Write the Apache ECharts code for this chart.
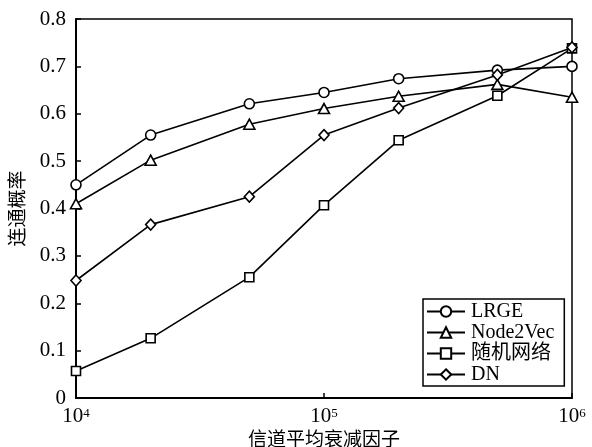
<!DOCTYPE html>
<html><head><meta charset="utf-8">
<script src="https://cdn.jsdelivr.net/npm/echarts@6/dist/echarts.min.js"></script>
<style>html,body{margin:0;padding:0;background:#fff}#c{width:592px;height:447px}</style>
</head><body><div id="c"></div>
<script>
const xValues = [10000, 20000, 50000, 100000, 200000, 500000, 1000000];
const lrge = [0.450, 0.555, 0.621, 0.645, 0.674, 0.692, 0.700];
const node2vec = [0.410, 0.502, 0.578, 0.611, 0.637, 0.662, 0.635];
const randomNet = [0.057, 0.126, 0.255, 0.407, 0.544, 0.638, 0.738];
const dn = [0.248, 0.366, 0.425, 0.555, 0.612, 0.682, 0.740];
const seriesNames = ['LRGE', 'Node2Vec', '随机网络', 'DN'];
const xTitle = '信道平均衰减因子';
const yTitle = '连通概率';

const FONT = '"Liberation Serif", "Noto Sans CJK SC", serif';
const chart = echarts.init(document.getElementById('c'), null, {renderer: 'canvas'});
function pairs(arr) { return xValues.map((x, i) => [x, arr[i]]); }
function mk(name, data, symbol, size) {
  return {
    name, type: 'line', data: pairs(data), symbol, symbolSize: size,
    showAllSymbol: true,
    lineStyle: {color: '#000', width: 1.6},
    itemStyle: {color: '#fff', borderColor: '#000', borderWidth: 1.6},
    emphasis: {disabled: true}, animation: false, z: 3
  };
}
chart.setOption({
  animation: false,
  grid: {left: 76, right: 20, top: 19, bottom: 49, containLabel: false, outerBoundsMode: 'none',
         show: true, borderColor: '#000', borderWidth: 1.5, backgroundColor: 'transparent'},
  legend: {
    orient: 'vertical', left: 423, top: 299,
    itemWidth: 38, itemHeight: 13, itemGap: 0,
    padding: [2, 10, 1, 3],
    borderColor: '#000', borderWidth: 1.5, backgroundColor: '#fff',
    textStyle: {fontFamily: FONT, fontSize: 20, color: '#000', lineHeight: 21, padding: [0, 0, 0, 1]},
    data: seriesNames
  },
  xAxis: {
    type: 'log', logBase: 10, min: 10000, max: 1000000,
    name: xTitle, nameLocation: 'middle', nameGap: 32,
    nameTextStyle: {fontFamily: FONT, fontSize: 19, color: '#000'},
    axisLine: {lineStyle: {color: '#000', width: 2}},
    axisTick: {inside: true, length: 5, lineStyle: {color: '#000', width: 1.5}},
    minorTick: {show: false},
    splitLine: {show: false},
    axisLabel: {
      margin: 9, color: '#000',
      formatter: v => '{b|10}{s|' + Math.round(Math.log10(v)) + '}',
      rich: {
        b: {fontFamily: FONT, fontSize: 21, lineHeight: 20, color: '#000', verticalAlign: 'bottom'},
        s: {fontFamily: FONT, fontSize: 13, lineHeight: 12, color: '#000', verticalAlign: 'top'}
      }
    }
  },
  yAxis: {
    type: 'value', min: 0, max: 0.8, interval: 0.1,
    name: yTitle, nameLocation: 'middle', nameGap: 41,
    nameTextStyle: {fontFamily: FONT, fontSize: 19, color: '#000'},
    axisLine: {show: true, lineStyle: {color: '#000', width: 2}},
    axisTick: {show: true, inside: true, length: 5, lineStyle: {color: '#000', width: 1.5}},
    splitLine: {show: false},
    axisLabel: {
      margin: 10, color: '#000', fontFamily: FONT, fontSize: 21,
      formatter: v => v === 0 ? '0' : v.toFixed(1)
    }
  },
  series: [
    mk(seriesNames[0], lrge, 'circle', 10),
    mk(seriesNames[1], node2vec, 'triangle', [11, 10]),
    mk(seriesNames[2], randomNet, 'rect', 9),
    mk(seriesNames[3], dn, 'diamond', [10, 11])
  ]
});
</script></body></html>
